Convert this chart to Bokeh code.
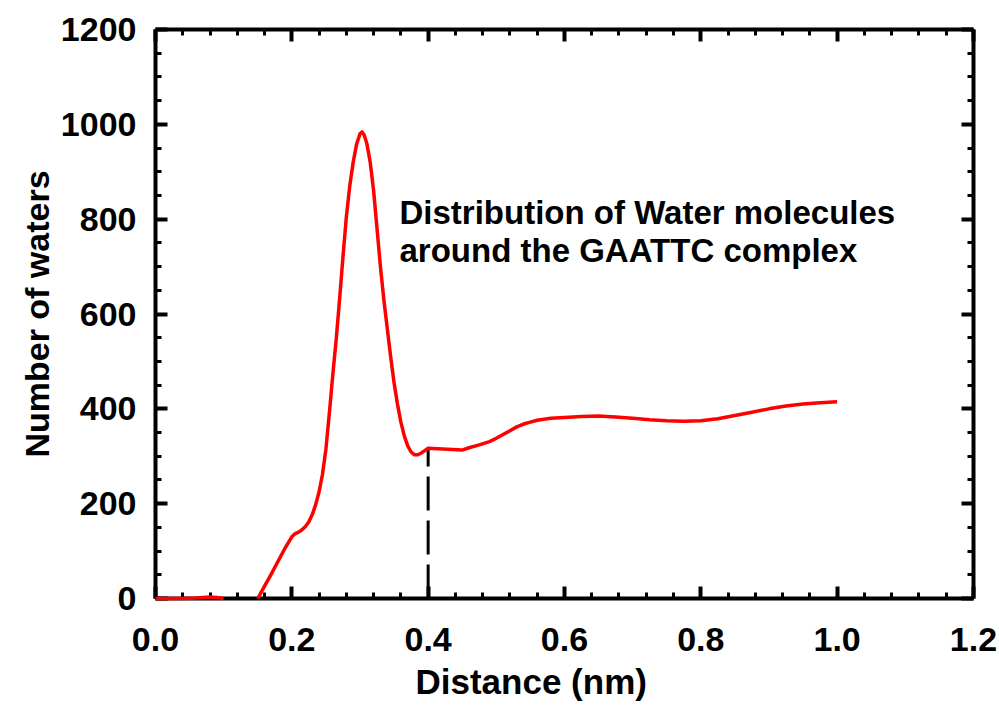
import math
from bokeh.plotting import figure
from bokeh.models import (Range1d, LinearAxis, FixedTicker,
                          PrintfTickFormatter, Label, Title, ColumnDataSource)
from bokeh.embed import file_html
from bokeh.resources import INLINE

# ---- data ----
NAN = float("nan")
distance_nm = [0.00, 0.02, 0.04, 0.06, 0.08, 0.09, 0.10, NAN,
               0.15, 0.16, 0.17, 0.18, 0.19, 0.20, 0.205, 0.21, 0.215, 0.22,
               0.225, 0.23, 0.235, 0.24, 0.245, 0.25, 0.255, 0.26, 0.265, 0.27,
               0.275, 0.28, 0.285, 0.29, 0.295, 0.30, 0.303, 0.306, 0.31, 0.315,
               0.32, 0.325, 0.33, 0.335, 0.34, 0.345, 0.35, 0.355, 0.36, 0.365,
               0.37, 0.375, 0.38, 0.385, 0.39, 0.395, 0.40, 0.45, 0.46, 0.475,
               0.49, 0.50, 0.51, 0.52, 0.53, 0.54, 0.55, 0.56, 0.57, 0.58,
               0.60, 0.625, 0.65, 0.675, 0.70, 0.725, 0.75, 0.775, 0.80, 0.825,
               0.85, 0.875, 0.90, 0.925, 0.95, 0.975, 1.00]
n_waters = [0, 0, 0, 1, 3, 2, 0, NAN,
            0, 26, 52, 79, 106, 130, 137, 140, 145, 152,
            162, 177, 198, 225, 262, 315, 390, 470, 545, 630,
            720, 805, 870, 920, 958, 980, 984, 978, 960, 920,
            860, 780, 700, 630, 570, 510, 455, 410, 372, 343,
            322, 309, 303, 303, 307, 312, 317, 313, 318, 324,
            331, 338, 346, 354, 362, 368, 372, 376, 378, 380,
            382, 384, 385, 383, 380, 377, 375, 374, 375, 379,
            386, 393, 400, 406, 410, 413, 415]

cutoff_x = [0.4, 0.4]
cutoff_y = [0, 317]

x_ticks = [0.0, 0.2, 0.4, 0.6, 0.8, 1.0, 1.2]
x_minor_ticks = [round(0.04 * i, 2) for i in range(31)]
y_ticks = [0, 200, 400, 600, 800, 1000, 1200]
y_minor_ticks = [50 * i for i in range(25)]

x_range = (0.0, 1.2)
y_range = (0, 1200)
annotation_lines = ["Distribution of Water molecules", "around the GAATTC complex"]

FONT = "Liberation Sans"

p = figure(width=999, height=707, output_backend="svg", toolbar_location=None,
           x_range=Range1d(x_range[0], x_range[1] + 1e-4),
           y_range=Range1d(y_range[0], y_range[1] + 0.1),
           min_border_left=155, min_border_right=26, min_border_top=29,
           min_border_bottom=107, x_axis_type=None, y_axis_type=None)
p.outline_line_color = None
p.xgrid.visible = False
p.ygrid.visible = False
p.background_fill_color = "white"
p.border_fill_color = "white"

def style_axis(ax, labels=True):
    ax.axis_line_width = 4
    ax.axis_line_color = "black"
    ax.major_tick_in = 12
    ax.major_tick_out = 0
    ax.minor_tick_in = 6
    ax.minor_tick_out = 0
    ax.major_tick_line_width = 4
    ax.minor_tick_line_width = 3
    ax.major_tick_line_color = "black"
    ax.minor_tick_line_color = "black"
    if labels:
        ax.major_label_text_font = FONT
        ax.major_label_text_font_size = "34px"
        ax.major_label_text_font_style = "bold"
        ax.major_label_text_color = "black"
    else:
        ax.major_label_text_font_size = "0px"
        ax.major_label_text_color = None
        ax.major_label_standoff = 0

def xt():
    return FixedTicker(ticks=x_ticks, minor_ticks=x_minor_ticks)

def yt():
    return FixedTicker(ticks=y_ticks, minor_ticks=y_minor_ticks)

xb = LinearAxis(ticker=xt(), formatter=PrintfTickFormatter(format="%.1f"))
style_axis(xb)
xb.major_label_standoff = 29
p.add_layout(xb, "below")

yl = LinearAxis(ticker=yt(), axis_label="Number of waters")
style_axis(yl)
yl.major_label_standoff = 19
yl.axis_label_text_font = FONT
yl.axis_label_text_font_size = "34px"
yl.axis_label_text_font_style = "bold"
yl.axis_label_text_color = "black"
yl.axis_label_standoff = 2
p.add_layout(yl, "left")

xa = LinearAxis(ticker=xt())
style_axis(xa, labels=False)
p.add_layout(xa, "above")

yr = LinearAxis(ticker=yt())
style_axis(yr, labels=False)
p.add_layout(yr, "right")

xlabel = Title(text="Distance (nm)", align="left", offset=260,
               text_font=FONT, text_font_size="35px", text_font_style="bold",
               text_color="black", standoff=13)
p.add_layout(xlabel, "below")

src = ColumnDataSource(dict(x=distance_nm, y=n_waters))
r = p.line("x", "y", source=src, line_color="#ff0000", line_width=3.5,
           line_join="round")
r.level = "overlay"

p.line(cutoff_x, cutoff_y, line_color="black", line_width=3, line_dash="34 10")

for i, txt in enumerate(annotation_lines):
    p.add_layout(Label(x=0.358, y=814 - 79 * i, text=txt, text_font=FONT,
                       text_font_size="33px", text_font_style="bold",
                       text_color="black", text_baseline="alphabetic",
                       text_align="left"))

open("out.html", "w").write(file_html(p, INLINE))
